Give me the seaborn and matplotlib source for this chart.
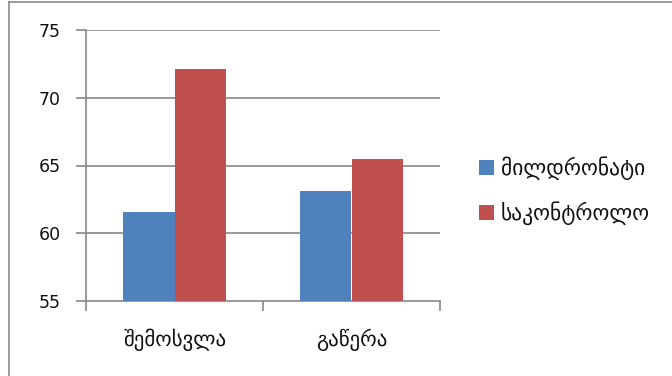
import matplotlib
matplotlib.use("Agg")
import matplotlib.pyplot as plt
from matplotlib.patches import Patch
from matplotlib.lines import Line2D
import seaborn as sns
import pandas as pd

# Data
categories = ["შემოსვლა", "გაწერა"]
series_names = ["მილდრონატი", "საკონტროლო"]
mildronate = [61.6, 63.1]
control = [72.1, 65.5]
y_ticks = [55, 60, 65, 70, 75]
colors = ["#4F81BD", "#C0504D"]

df = pd.DataFrame({
    "category": categories * 2,
    "series": [series_names[0]] * len(categories) + [series_names[1]] * len(categories),
    "value": mildronate + control,
})

sns.set_theme(style="white")
plt.rcParams["font.family"] = ["DejaVu Sans"]

W, H = 672, 376
fig = plt.figure(figsize=(W / 100, H / 100), dpi=100)
ax = fig.add_axes([86 / W, 1 - 301 / H, (440 - 86) / W, (301 - 30) / H])

sns.barplot(data=df, x="category", y="value", hue="series", order=categories,
            hue_order=series_names, palette=colors, width=0.58, gap=0,
            saturation=1, linewidth=0, ax=ax, legend=False, zorder=3)

# Bars start at the axis floor
ax.set_ylim(y_ticks[0], y_ticks[-1])
ax.set_xlim(-0.5, len(categories) - 0.5)
ax.set_yticks(y_ticks)
ax.set_xlabel("")
ax.set_ylabel("")

grid_color = "#878787"
for v in y_ticks[1:]:
    ax.axhline(v, color=grid_color, lw=1.2, zorder=1)

for side in ["top", "right"]:
    ax.spines[side].set_visible(False)
for side in ["left", "bottom"]:
    ax.spines[side].set_color(grid_color)
    ax.spines[side].set_linewidth(1.2)

ax.tick_params(axis="y", which="major", length=7, width=1.2, color=grid_color,
               labelsize=12.5, labelcolor="#111111", pad=11, left=True)
ax.tick_params(axis="x", which="major", length=0, labelsize=15,
               labelcolor="#111111", pad=20)
ax.set_xticks([i - 0.5 for i in range(len(categories) + 1)], minor=True)
ax.tick_params(axis="x", which="minor", length=7, width=1.2, color=grid_color,
               bottom=True)

handles = [Patch(facecolor=c, edgecolor="none") for c in colors]
fig.legend(handles, series_names, loc="center left",
           bbox_to_anchor=(460 / W, 1 - 191 / H), frameon=False,
           fontsize=15.5, handlelength=0.7, handleheight=0.7,
           handletextpad=0.3, labelspacing=1.0, labelcolor="#111111")

# Outer frame
frame_color = "#8a8a8a"
fig.add_artist(Line2D([9 / W, 9 / W], [0, 1 - 2 / H], transform=fig.transFigure,
                      color=frame_color, lw=1.2))
fig.add_artist(Line2D([9 / W, 1], [1 - 2 / H, 1 - 2 / H], transform=fig.transFigure,
                      color=frame_color, lw=1.2))

fig.savefig("out.png", dpi=100)
